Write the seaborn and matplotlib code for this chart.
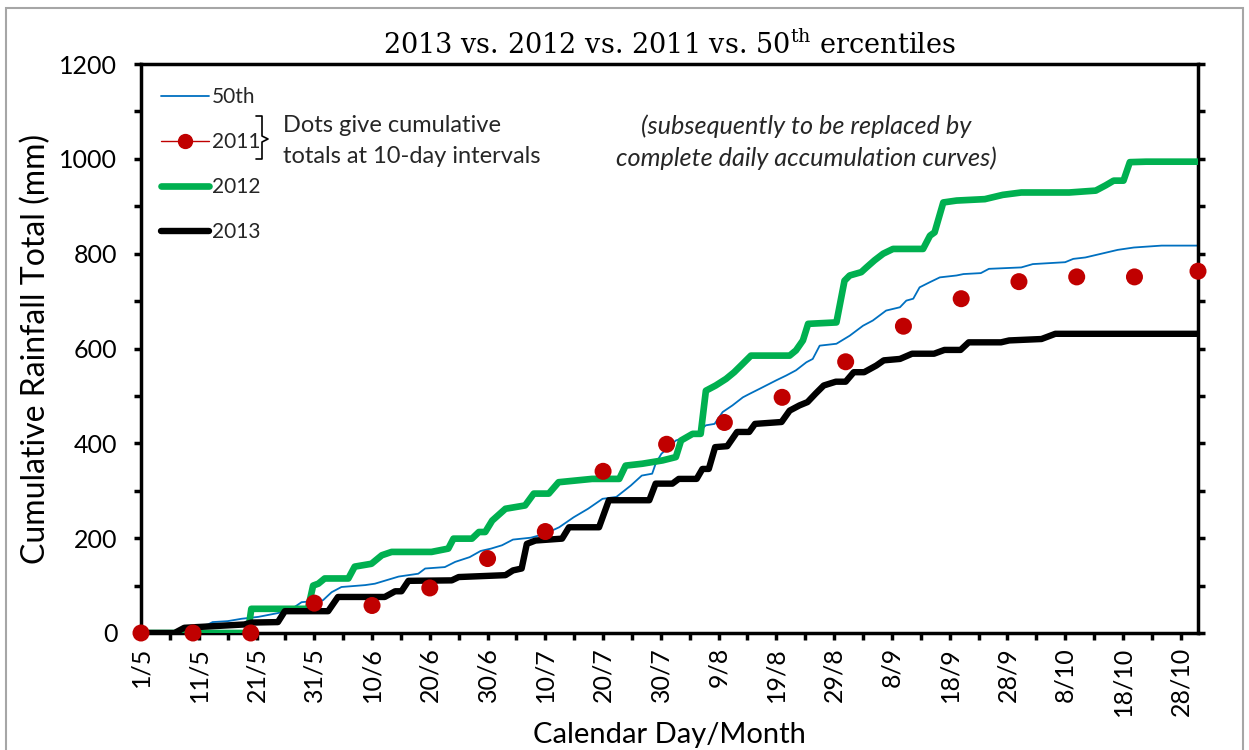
import matplotlib
matplotlib.use("Agg")
import matplotlib.pyplot as plt
from matplotlib.lines import Line2D
from matplotlib.patches import Rectangle
from matplotlib.ticker import FixedLocator, MultipleLocator
import seaborn as sns

# x positions are days counted from 1 May
tick_days = list(range(0, 181, 10))
tick_labels = ["1/5", "11/5", "21/5", "31/5", "10/6", "20/6", "30/6", "10/7",
               "20/7", "30/7", "9/8", "19/8", "29/8", "8/9", "18/9", "28/9",
               "8/10", "18/10", "28/10"]

# 50th percentile curve
p50_days = [0, 5.5, 7.5, 11.6, 12.4, 15, 17.4, 20.3, 23.7, 26.6, 27.8, 31.5, 33,
            34.7, 38.8, 40.5, 44.6, 48, 49.2, 52.6, 54.4, 56.9, 58.8, 60.6, 62.5,
            64.4, 67.5, 69.9, 72.4, 74.9, 77.4, 79.9, 82.3, 84.8, 86.7, 88.5, 89.1,
            90.1, 91.4, 92.6, 94.3, 96.1, 97.8, 99.3, 100.7, 102.4, 104.2, 105.3,
            107.1, 110, 111.7, 113.4, 115.2, 116.3, 117.5, 120.4, 122.7, 125, 126.7,
            129, 131.4, 132.5, 133.7, 134.8, 136.6, 138.3, 141.2, 142.4, 145.4,
            146.8, 152.4, 154.4, 160, 161.4, 163.5, 169.1, 171.9, 176.7, 183]
p50_vals = [0, 0, 9, 18, 23, 25, 30, 34, 42, 55, 65, 69, 86,
            97, 101, 104, 119, 125, 136, 139, 150, 160, 173, 178, 185,
            197, 201, 209, 223, 244, 262, 283, 287, 311, 332, 336, 357,
            378, 392, 406, 413, 420, 438, 441, 466, 480, 497, 504,
            515, 533, 543, 554, 571, 578, 606, 610, 627, 648, 659,
            680, 687, 701, 705, 729, 740, 750, 754, 757, 759,
            768, 771, 778, 782, 789, 792, 808, 813, 817, 817]

# 2011: dekad totals
y2011_days = [0, 9, 19, 30, 40, 50, 60, 70, 80, 91, 101, 111, 122, 132, 142,
              152, 162, 172, 183]
y2011_vals = [0, 0, 0, 63, 58, 95, 157, 214, 341, 398, 444, 497, 572, 647, 705,
              741, 751, 751, 763]

# 2012 curve
y2012_days = [0, 18.5, 19.1, 28.9, 29.8, 30.7, 31.8, 35.9, 37.0, 39.9, 41.7, 43.4,
              50.3, 53.2, 54.1, 57.3, 58.5, 59.6, 60.8, 63.1, 66.5, 68.0, 70.6,
              72.3, 78.1, 82.8, 83.9, 86.8, 90.3, 92.6, 93.5, 95.5, 96.9, 97.8,
              99.5, 101.3, 102.7, 104.2, 105.6, 112.3, 113.4, 114.6, 115.5, 120.4,
              121.8, 122.7, 124.7, 125.6, 127.0, 128.5, 130.2, 135.4, 136.6, 137.4,
              138.9, 141.2, 146.1, 149.2, 152.4, 160.7, 165.3, 167.0, 168.4, 170.1,
              171.2, 174.0, 183]
y2012_vals = [0, 0, 51, 51, 100, 104, 115, 115, 140, 146, 164, 171,
              171, 178, 199, 199, 213, 213, 237, 262, 269, 294, 294,
              318, 325, 325, 353, 357, 364, 371, 406, 420, 420, 511,
              522, 536, 550, 568, 585, 585, 596, 617, 652, 655,
              743, 754, 761, 771, 786, 800, 810, 810, 838, 845,
              908, 912, 915, 924, 929, 929, 933, 944, 954, 954,
              993, 994, 994]

# 2013 curve
y2013_days = [0, 5.8, 7.5, 17.9, 19.1, 23.7, 24.9, 32.4, 34.1, 42.2, 44.0, 45.1,
              46.3, 53.8, 55.0, 63.1, 64.4, 65.9, 66.8, 68.3, 72.9, 74.1, 79.3,
              81.0, 88.0, 89.1, 92.0, 93.1, 96.2, 97.2, 98.3, 99.4, 101.5, 103.2,
              105.3, 106.3, 110.9, 112.3, 114.0, 115.4, 116.8, 118.2, 120.3, 122.0,
              123.4, 125.2, 127.3, 128.6, 131.4, 133.5, 137.3, 139.1, 141.9, 143.3,
              148.9, 150.3, 155.9, 158.3, 183]
y2013_vals = [0, 0, 11, 18, 22, 23, 46, 46, 76, 76, 88, 88,
              110, 111, 118, 122, 132, 136, 188, 195, 199, 223, 223,
              280, 280, 315, 315, 325, 325, 346, 346, 392, 394, 424,
              424, 441, 445, 469, 480, 487, 505, 522, 530, 530,
              550, 550, 564, 575, 578, 589, 589, 597, 597, 613,
              613, 617, 620, 631, 631]

BLUE = "#0070C0"
RED = "#C00000"
GREEN = "#00B050"

sns.set_theme(style="white")
plt.rcParams["font.family"] = ["Lato", "DejaVu Sans"]
plt.rcParams["mathtext.fontset"] = "dejavuserif"

W, H = 1249, 750
fig = plt.figure(figsize=(W / 100, H / 100), dpi=100)
ax = fig.add_axes([141 / W, 1 - 633 / H, (1198 - 141) / W, (633 - 64) / H])

# grey chart-area frame
fig.add_artist(Rectangle((6 / W, -0.05), (1243 - 6) / W, 1.05 - 8 / H,
                         transform=fig.transFigure, fill=False,
                         edgecolor="#A6A6A6", linewidth=1.5))

sns.lineplot(x=p50_days, y=p50_vals, color=BLUE, linewidth=1.3, sort=False,
             estimator=None, ax=ax, zorder=2)
sns.lineplot(x=y2012_days, y=y2012_vals, color=GREEN, linewidth=4.8, sort=False,
             estimator=None, ax=ax, zorder=3)
sns.lineplot(x=y2013_days, y=y2013_vals, color="black", linewidth=4.6, sort=False,
             estimator=None, ax=ax, zorder=4)
sns.scatterplot(x=y2011_days, y=y2011_vals, color=RED, s=150, edgecolor="none",
                clip_on=False, ax=ax, zorder=5)

ax.set_xlim(0, 183)
ax.set_ylim(0, 1200)

ax.xaxis.set_major_locator(FixedLocator(tick_days))
ax.set_xticklabels(tick_labels, rotation=90)
ax.xaxis.set_minor_locator(MultipleLocator(5))
ax.yaxis.set_major_locator(MultipleLocator(200))
ax.yaxis.set_minor_locator(MultipleLocator(100))

for side in ["left", "right", "top", "bottom"]:
    ax.spines[side].set_visible(True)
    ax.spines[side].set_color("black")
    ax.spines[side].set_linewidth(2.5)

ax.tick_params(axis="both", which="both", direction="out", length=5, width=2.5,
               color="black", labelcolor="black")
ax.tick_params(axis="x", which="both", bottom=True, top=False, pad=5, labelsize=18)
ax.tick_params(axis="y", which="both", left=True, right=True, pad=12, labelsize=18)

ax.set_xlabel("Calendar Day/Month", fontsize=21, color="black", labelpad=4)
ax.set_ylabel("Cumulative Rainfall Total (mm)", fontsize=23, color="black",
              labelpad=6)
ax.set_title(r"2013 vs. 2012 vs. 2011 vs. 50$^{\mathrm{th}}$ ercentiles",
             family="DejaVu Serif", fontsize=19.5, color="black", pad=7)

handles = [
    Line2D([], [], color=BLUE, linewidth=1.3),
    Line2D([], [], color=RED, linewidth=1, marker="o", markersize=10,
           markeredgecolor=RED),
    Line2D([], [], color=GREEN, linewidth=4.8),
    Line2D([], [], color="black", linewidth=4.6),
]
ax.legend(handles, ["50th", "2011", "2012", "2013"], loc="upper left",
          bbox_to_anchor=(161 / W, 1 - 87 / H), bbox_transform=fig.transFigure,
          frameon=False, fontsize=15, handlelength=2.3, handletextpad=0.15,
          labelspacing=1.2, borderpad=0, borderaxespad=0)

# brace grouping the 2011 entry with its note
bx = [256, 262, 262, 268, 262, 262, 256]
by = [116, 116, 136, 139, 142, 159, 159]
fig.add_artist(Line2D([x / W for x in bx], [1 - y / H for y in by],
                      transform=fig.transFigure, color="black", linewidth=1.2))

fig.text(283 / W, 1 - 141 / H, "Dots give cumulative\ntotals at 10-day intervals",
         fontsize=17, va="center", ha="left", linespacing=1.6)
fig.text(806 / W, 1 - 142 / H,
         "(subsequently to be replaced by\ncomplete daily accumulation curves)",
         fontsize=18.2, style="italic", va="center", ha="center", linespacing=1.45)

fig.savefig("out.png", dpi=100)
